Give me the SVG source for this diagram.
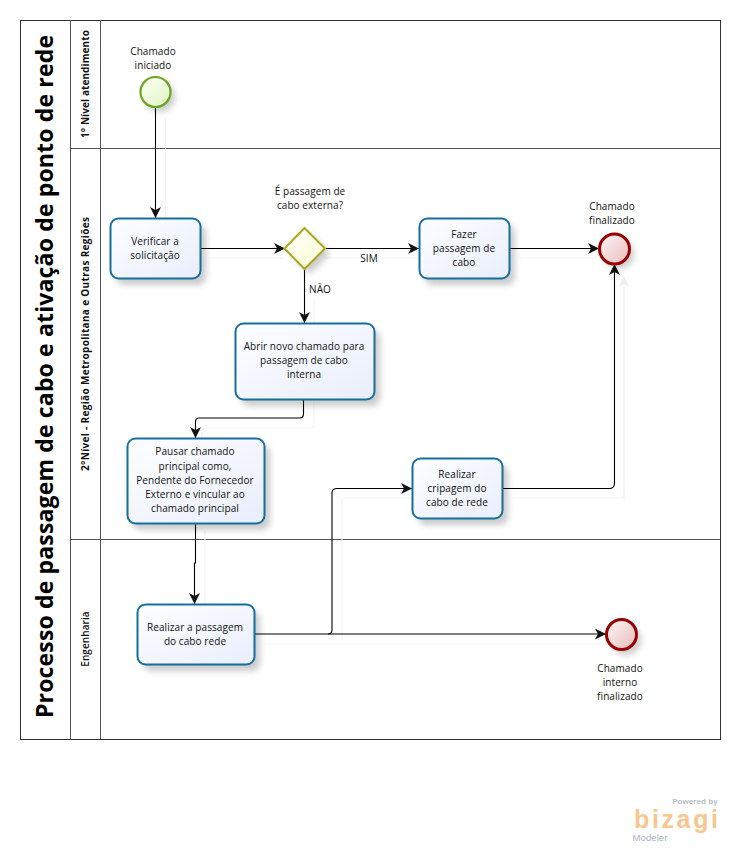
<svg xmlns="http://www.w3.org/2000/svg" width="740" height="852" viewBox="0 0 740 852">
<style>
text{font-family:"Open Sans","Noto Sans","Liberation Sans",sans-serif;font-size:10px;letter-spacing:.08px;fill:#111;text-anchor:middle}
.lane{fill:none;stroke:#555;stroke-width:1}
.task{stroke:#156f9e;stroke-width:2;fill:url(#gt)}
.sh{fill:#000;opacity:.2;filter:url(#bl)}
.c{fill:none;stroke:#000;stroke-width:1.1;marker-end:url(#ah)}
.g{fill:none;stroke:#f3f3f3;stroke-width:1.1}
.end{stroke:#990000;stroke-width:3;fill:url(#ge)}
.v{font-weight:600}
</style>
<defs>
<linearGradient id="gt" x1="0" y1="0" x2="1" y2="1"><stop offset="0" stop-color="#fdfeff"/><stop offset="1" stop-color="#e9eefc"/></linearGradient>
<linearGradient id="ge" x1="0" y1="0" x2="1" y2="1"><stop offset="0" stop-color="#fdf6f6"/><stop offset="1" stop-color="#e8bcbc"/></linearGradient>
<linearGradient id="gs" x1="0" y1="0" x2="1" y2="1"><stop offset="0" stop-color="#fdfff5"/><stop offset="1" stop-color="#dff5c4"/></linearGradient>
<linearGradient id="gd" x1="0" y1="0" x2="1" y2="1"><stop offset="0" stop-color="#fffff8"/><stop offset="1" stop-color="#fbfbd8"/></linearGradient>
<filter id="bl" x="-30%" y="-30%" width="160%" height="160%"><feGaussianBlur stdDeviation="3"/></filter>
<marker id="ah" markerUnits="userSpaceOnUse" markerWidth="12" markerHeight="12" refX="11" refY="6" orient="auto"><path d="M0,0.5 L11,6 L0,11.5 L3,6 Z" fill="#111"/></marker>
<marker id="ag" markerUnits="userSpaceOnUse" markerWidth="12" markerHeight="12" refX="11" refY="6" orient="auto"><path d="M0,0.5 L11,6 L0,11.5 L3,6 Z" fill="#eee"/></marker>
</defs>
<rect width="740" height="852" fill="#fff"/>
<g id="pool">
<rect class="lane" x="20.5" y="20.5" width="700" height="719" style="stroke:#333"/>
<path class="lane" d="M70.5 20V739M100.5 20V739M70.5 148.5H720M70.5 539.5H720"/>
<text transform="translate(53,376.500) rotate(-90)" textLength="683" style="font-size:23px;font-weight:700;fill:#000;letter-spacing:0">Processo de passagem de cabo e ativação de ponto de rede</text>
<text class="v" transform="translate(89,84) rotate(-90)" textLength="108" style="font-weight:700">1° Nível atendimento</text>
<text class="v" transform="translate(89,344) rotate(-90)" textLength="254" style="font-weight:700">2°Nível - Região Metropolitana e Outras Regiões</text>
<text class="v" transform="translate(89,639) rotate(-90)">Engenharia</text>
</g>
<g id="connector-shadows">
<path class="g" d="M165.500 118V218M210 258H284M325 258H419M519 258H597"/>
<path class="g" d="M624 500V276" marker-end="url(#ag)"/>
<path class="g" d="M314 300V323M314 399V424Q314 428 310 428H206Q202 428 202 432V438M205 530V604M264 644H622M342 640V500Q342 498 346 498H412M512 498H620Q624 498 624 494V480"/>
</g>
<g id="connectors">
<path class="c" d="M155.500 107V218"/>
<path class="c" d="M200 248.500H285"/>
<path class="c" d="M325 248.500H419"/>
<path class="c" d="M509 248.500H599"/>
<path class="c" d="M304.500 269V323"/>
<path class="c" d="M303.500 399V414Q303.500 418 299.500 418H199Q195.500 418 195.500 422V438"/>
<path class="c" d="M195.500 523V563H194.500V604"/>
<path class="c" d="M254 634H606"/>
<path class="c" d="M328 634Q332 634 332 630V493Q332 488.500 337 488.500H412"/>
<path class="c" d="M502 488.500H609Q614.500 488.500 614.500 483V264"/>
</g>
<g id="start"><circle class="sh" cx="160" cy="97" r="15"/><circle cx="155.500" cy="92" r="15" fill="url(#gs)" stroke="#6ca51f" stroke-width="2.200"/><text x="153" y="55">Chamado</text><text x="153" y="69">iniciado</text></g>
<g id="verificar"><rect class="sh" x="116" y="225" width="90" height="60" rx="8"/><rect class="task" x="110.500" y="218.500" width="90" height="60" rx="8"/><text x="155" y="245">Verificar a</text><text x="155" y="259">solicitação</text></g>
<g id="gateway"><path class="sh" d="M310 234L330 254L310 274L290 254Z"/><path d="M304.500 228L325 248.500L304.500 269L284.500 248.500Z" fill="url(#gd)" stroke="#a8a81e" stroke-width="2"/><text x="310" y="195">É passagem de</text><text x="310" y="209">cabo externa?</text></g>
<g id="fazer"><rect class="sh" x="425" y="225" width="90" height="60" rx="8"/><rect class="task" x="419.500" y="218.500" width="90" height="60" rx="8"/><text x="464" y="238">Fazer</text><text x="464" y="252">passagem de</text><text x="464" y="266">cabo</text></g>
<g id="end1"><circle class="sh" cx="619" cy="254" r="15"/><circle class="end" cx="614.500" cy="249" r="15"/><text x="612" y="210">Chamado</text><text x="612" y="224">finalizado</text></g>
<g id="abrir"><rect class="sh" x="241" y="330" width="139" height="76" rx="8"/><rect class="task" x="235.500" y="323.500" width="139" height="76" rx="8"/><text x="304" y="350">Abrir novo chamado para</text><text x="304" y="364">passagem de cabo</text><text x="304" y="378">interna</text></g>
<g id="pausar"><rect class="sh" x="133" y="445" width="137" height="85" rx="8"/><rect class="task" x="127.500" y="438.500" width="137" height="85" rx="8"/><text x="195" y="455">Pausar chamado</text><text x="195" y="470">principal como,</text><text x="195" y="484">Pendente do Fornecedor</text><text x="195" y="498">Externo e vincular ao</text><text x="195" y="512">chamado principal</text></g>
<g id="cripagem"><rect class="sh" x="418" y="465" width="90" height="60" rx="8"/><rect class="task" x="412.500" y="458.500" width="90" height="60" rx="8"/><text x="457" y="478">Realizar</text><text x="457" y="492">cripagem do</text><text x="457" y="506">cabo de rede</text></g>
<g id="realizara"><rect class="sh" x="143" y="611" width="117" height="60" rx="8"/><rect class="task" x="137.500" y="604.500" width="117" height="60" rx="8"/><text x="195" y="631">Realizar a passagem</text><text x="195" y="645">do cabo rede</text></g>
<g id="end2"><circle class="sh" cx="626" cy="640" r="15"/><circle class="end" cx="621.500" cy="634.500" r="15"/><text x="620" y="672">Chamado</text><text x="620" y="686">interno</text><text x="620" y="700">finalizado</text></g>
<g id="labels"><text x="369" y="262">SIM</text><text x="320" y="293">NÃO</text></g>
<g id="logo">
<text x="695" y="804" style="font-family:'Liberation Sans',sans-serif;font-size:8px;font-weight:700;fill:#b9bfc4">Powered by</text>
<text x="676" y="828" textLength="84" style="font-family:'Liberation Sans',sans-serif;font-size:25px;font-weight:700;fill:#f8c68f;letter-spacing:0">bizagi</text>
<text x="650" y="841" style="font-family:'Liberation Sans',sans-serif;font-size:9.500px;fill:#a9b3ba">Modeler</text>
</g>
</svg>
